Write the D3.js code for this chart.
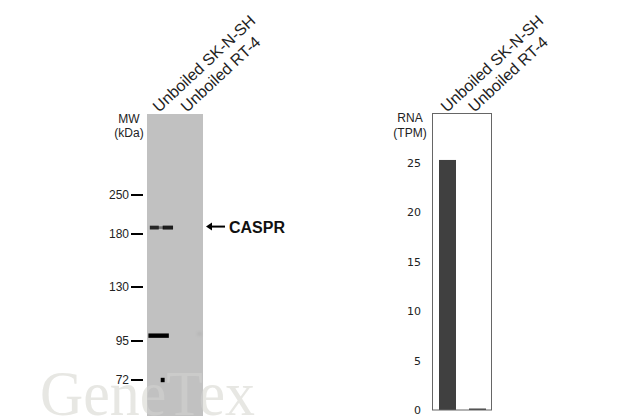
<!DOCTYPE html>
<html><head><meta charset="utf-8">
<script src="https://cdn.jsdelivr.net/npm/d3@7"></script>
<style>html,body{margin:0;padding:0;background:#fff}svg{display:block}text{font-family:"Liberation Sans",Arial,sans-serif;fill:#222}</style>
</head><body><div id="c"></div>
<script>
const categories = ["Unboiled SK-N-SH", "Unboiled RT-4"];
const mwTicks = [250, 180, 130, 95, 72];
const rnaValues = [25.3, 0.15];
const rnaTicks = [0, 5, 10, 15, 20, 25];
const targetName = "CASPR";
const targetMw = 190;
const bandLane = [0, 0, 0, 0, 0];
const bandMw = [190, 190, 190, 98, 72];
const bandFrom = [0.1, 0.4, 0.56, 0.05, 0.49];
const bandTo = [0.42, 0.6, 0.93, 0.78, 0.63];
const bandStrength = [0.8, 0.4, 0.85, 1, 1];
const smudgeLane = [1];
const smudgeFrom = [0.8];
const smudgeTo = [0.95];
const smudgeMw = [99];

const svg = d3.select("#c").append("svg").attr("width",640).attr("height",420);
const defs = svg.append("defs");
defs.append("filter").attr("id","blur").attr("filterUnits","userSpaceOnUse").attr("x",140).attr("y",200).attr("width",70).attr("height",200)
  .append("feGaussianBlur").attr("stdDeviation","0.7");
defs.append("filter").attr("id","soft").attr("filterUnits","userSpaceOnUse").attr("x",190).attr("y",320).attr("width",20).attr("height",30)
  .append("feGaussianBlur").attr("stdDeviation","1.5");

const blotX = d3.scaleLinear().domain([0,2]).range([147,203]);
const mwY = d3.scaleLog().domain(mwTicks).range([195,234,287,341,380]);
const bandW = d3.scaleLinear().domain([0,1]).range([1.5,4.4]);

svg.append("rect").attr("x",blotX(0)).attr("y",114).attr("width",blotX(2)-blotX(0)).attr("height",302).attr("fill","#c1c1c1");

// watermark: paler than the page, and slightly lighter than the blot where they cross
const wm = defs.append("linearGradient").attr("id","wm").attr("gradientUnits","userSpaceOnUse").attr("x1",0).attr("x2",640).attr("y1",0).attr("y2",0);
[[0,"#e7e7e3"],[blotX(0)/640,"#e7e7e3"],[blotX(0)/640,"#cbcbca"],[blotX(2)/640,"#cbcbca"],[blotX(2)/640,"#e7e7e3"],[1,"#e7e7e3"]]
  .forEach(s=>wm.append("stop").attr("offset",s[0]).attr("stop-color",s[1]));
svg.append("text").attr("x",40).attr("y",415).attr("textLength",215).attr("lengthAdjust","spacingAndGlyphs").text("GeneTex")
  .style("font-family","'Liberation Serif',serif").style("font-size","63px").style("fill","url(#wm)");

svg.append("g").attr("filter","url(#blur)").selectAll("line").data(d3.range(bandMw.length)).join("line")
  .attr("x1",i=>blotX(bandLane[i]+bandFrom[i]))
  .attr("x2",i=>blotX(bandLane[i]+bandTo[i]))
  .attr("y1",i=>mwY(bandMw[i])).attr("y2",i=>mwY(bandMw[i]))
  .attr("stroke","#000").attr("stroke-width",i=>bandW(bandStrength[i])).attr("stroke-opacity",i=>bandStrength[i]);
svg.append("g").attr("filter","url(#soft)").selectAll("line").data(smudgeMw).join("line")
  .attr("x1",(d,i)=>blotX(smudgeLane[i]+smudgeFrom[i])).attr("x2",(d,i)=>blotX(smudgeLane[i]+smudgeTo[i]))
  .attr("y1",d=>mwY(d)).attr("y2",d=>mwY(d)).attr("stroke","#000").attr("stroke-width",3).attr("stroke-opacity",0.08);

// MW ticks
const mwG = svg.append("g").selectAll("g").data(mwTicks).join("g").attr("transform",d=>`translate(0,${mwY(d)})`);
mwG.append("line").attr("x1",131).attr("x2",143).attr("stroke","#000").attr("stroke-width",2);
mwG.append("text").attr("x",129).attr("dy","0.36em").attr("text-anchor","end").style("font-size","12px").text(d=>d);
svg.append("text").attr("x",129).attr("y",123).attr("text-anchor","middle").style("font-size","12px").text("MW");
svg.append("text").attr("x",129).attr("y",137).attr("text-anchor","middle").style("font-size","12px").text("(kDa)");

// Target arrow
const ay = mwY(targetMw)-1;
svg.append("line").attr("x1",209).attr("x2",225).attr("y1",ay).attr("y2",ay).attr("stroke","#000").attr("stroke-width",2);
svg.append("path").attr("d",`M206,${ay}l6,-4v8z`).attr("fill","#000");
svg.append("text").attr("x",229).attr("y",ay+6.5).style("font-size","16px").style("font-weight","700").style("fill","#111").text(targetName);

// lane labels (blot)
const laneLabelX = [159, 187];
svg.append("g").selectAll("text").data(categories).join("text")
  .attr("transform",(d,i)=>`translate(${laneLabelX[i]},113) rotate(-43)`)
  .style("font-size","16px").text(d=>d);

// RNA panel
const rnaX = d3.scaleBand().domain(categories).range([432,491]);
const rnaY = d3.scaleLinear().domain([0,30]).range([410,113.5]);
svg.append("g").selectAll("rect").data(rnaValues).join("rect")
  .attr("x",(d,i)=>rnaX(categories[i])+[7,7.5][i]).attr("width",17)
  .attr("y",d=>rnaY(d)).attr("height",d=>rnaY(0)-rnaY(d)).attr("fill","#404040");
svg.append("rect").attr("x",432.5).attr("y",113.5).attr("width",59).attr("height",rnaY(0)-113.5)
  .attr("fill","none").attr("stroke","#666").attr("stroke-width",1);
const rnaAxis = d3.axisLeft(rnaY).tickValues(rnaTicks).tickSize(0);
const ag = svg.append("g").attr("transform","translate(421,0)").call(rnaAxis);
ag.select(".domain").remove();
ag.selectAll("text").attr("x",0).style("font-family","'DejaVu Sans',sans-serif").style("font-size","11px").style("fill","#222");
svg.append("text").attr("x",410).attr("y",122).attr("text-anchor","middle").style("font-size","12px").text("RNA");
svg.append("text").attr("x",410).attr("y",136.5).attr("text-anchor","middle").style("font-size","12px").text("(TPM)");
const rnaLabelX = [447, 474.5];
svg.append("g").selectAll("text").data(categories).join("text")
  .attr("transform",(d,i)=>`translate(${rnaLabelX[i]},113) rotate(-43)`)
  .style("font-size","16px").text(d=>d);
</script></body></html>
